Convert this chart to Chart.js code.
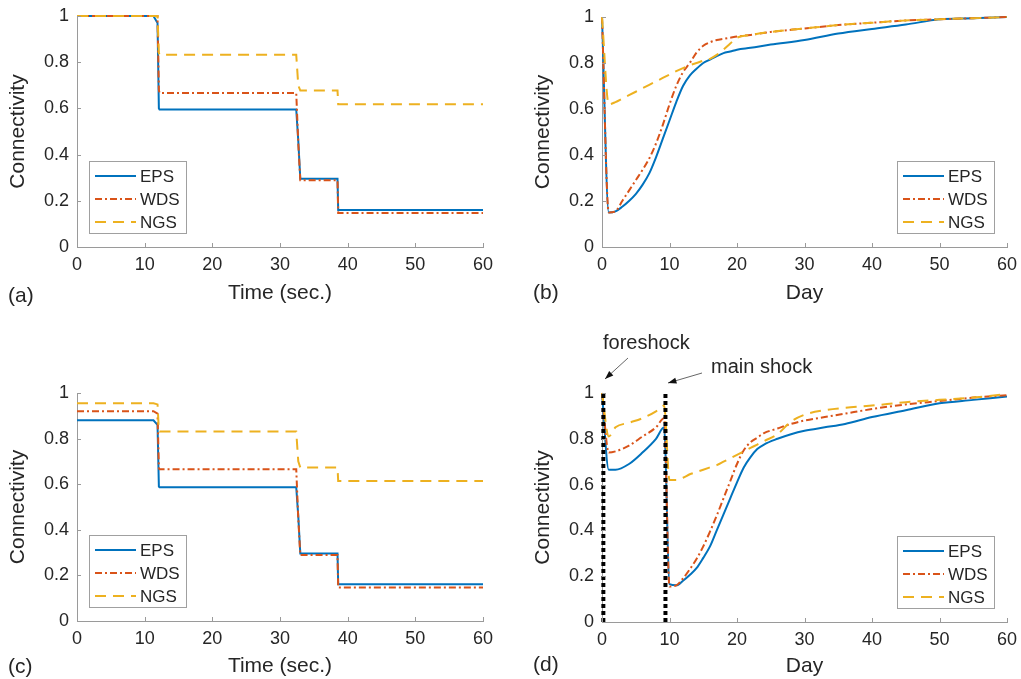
<!DOCTYPE html>
<html>
<head>
<meta charset="utf-8">
<script src="https://cdn.jsdelivr.net/npm/chart.js@4.4.1/dist/chart.umd.min.js"></script>
<style>
  body { margin: 0; background: #fff; width: 1021px; height: 679px; position: relative; overflow: hidden; }
  .panel { position: absolute; }
</style>
</head>
<body>
<div class="panel" style="left:0;top:0;width:510px;height:320px"><canvas id="chartA"></canvas></div>
<div class="panel" style="left:510px;top:0;width:511px;height:320px"><canvas id="chartB"></canvas></div>
<div class="panel" style="left:0;top:330px;width:510px;height:349px"><canvas id="chartC"></canvas></div>
<div class="panel" style="left:510px;top:330px;width:511px;height:349px"><canvas id="chartD"></canvas></div>
<script>
// ---- data ----
const seriesNames = ['EPS', 'WDS', 'NGS'];
const xTicks = [0, 10, 20, 30, 40, 50, 60];
const yTicks = [0, 0.2, 0.4, 0.6, 0.8, 1];

// (a) / (c): seconds during the shaking
const timeSec = [0, 11.3, 11.9, 12.1, 12.2, 32.4, 32.7, 33.0, 38.5, 38.6, 60];
const epsA = [1, 1, 0.97, 0.60, 0.595, 0.595, 0.46, 0.295, 0.295, 0.16, 0.16];
const wdsA = [1, 1, 1, 0.68, 0.667, 0.667, 0.45, 0.289, 0.289, 0.147, 0.147];
const ngsA = [1, 1, 1, 0.84, 0.832, 0.832, 0.70, 0.677, 0.677, 0.618, 0.618];
const epsC = [0.88, 0.88, 0.86, 0.59, 0.587, 0.587, 0.46, 0.296, 0.296, 0.161, 0.161];
const wdsC = [0.92, 0.92, 0.91, 0.67, 0.666, 0.666, 0.45, 0.289, 0.289, 0.147, 0.147];
const ngsC = [0.955, 0.955, 0.95, 0.835, 0.831, 0.831, 0.70, 0.673, 0.673, 0.614, 0.614];

// (b): days after the main shock
const dayB = [0, 1, 2, 3, 4, 5, 6, 7, 8, 9, 10, 11, 12, 13, 14, 15, 16, 17, 18, 19, 20, 22, 25, 30, 35, 40, 45, 50, 55, 60];
const epsB = [1, 0.15, 0.155, 0.175, 0.20, 0.23, 0.27, 0.32, 0.39, 0.47, 0.55, 0.63, 0.70, 0.745, 0.775, 0.80, 0.815, 0.83, 0.843, 0.85, 0.858, 0.866, 0.88, 0.90, 0.928, 0.948, 0.967, 0.99, 0.995, 1.0];
const wdsB = [1, 0.15, 0.155, 0.20, 0.245, 0.29, 0.335, 0.385, 0.45, 0.53, 0.62, 0.70, 0.76, 0.80, 0.845, 0.875, 0.89, 0.90, 0.905, 0.91, 0.915, 0.922, 0.935, 0.95, 0.965, 0.975, 0.985, 0.99, 0.995, 1.0];
const ngsB = [1, 0.62, 0.63, 0.645, 0.66, 0.675, 0.69, 0.705, 0.72, 0.735, 0.75, 0.765, 0.778, 0.79, 0.80, 0.81, 0.818, 0.835, 0.858, 0.885, 0.91, 0.922, 0.935, 0.95, 0.965, 0.975, 0.985, 0.99, 0.995, 1.0];

// (d): foreshock + main shock
const dayD = [0, 1, 2, 4, 6, 8, 9.2, 10, 11, 12, 13, 14, 15, 16, 17, 18, 19, 20, 21, 22, 23, 24, 26, 28, 30, 33, 36, 40, 45, 50, 55, 60];
const epsD = [1, 0.665, 0.665, 0.69, 0.74, 0.80, 0.85, 0.165, 0.16, 0.18, 0.205, 0.235, 0.28, 0.33, 0.40, 0.47, 0.54, 0.61, 0.675, 0.72, 0.755, 0.775, 0.80, 0.82, 0.835, 0.85, 0.865, 0.895, 0.925, 0.955, 0.97, 0.985];
const wdsD = [1, 0.74, 0.745, 0.77, 0.81, 0.85, 0.89, 0.155, 0.16, 0.19, 0.23, 0.275, 0.33, 0.395, 0.465, 0.54, 0.615, 0.69, 0.75, 0.785, 0.805, 0.825, 0.845, 0.865, 0.88, 0.895, 0.91, 0.93, 0.95, 0.965, 0.98, 0.99];
const ngsD = [1, 0.81, 0.85, 0.87, 0.89, 0.92, 0.945, 0.62, 0.62, 0.63, 0.645, 0.655, 0.665, 0.675, 0.685, 0.70, 0.715, 0.73, 0.745, 0.76, 0.775, 0.79, 0.82, 0.875, 0.905, 0.925, 0.935, 0.945, 0.96, 0.97, 0.98, 0.995];
const shockDays = [0.2, 9.4];
const shockNames = ['foreshock', 'main shock'];

// ---- styling ----
const FONT = "'Liberation Sans', Arial, sans-serif";
const TEXT = '#262626';
const AXIS = '#9a9a9a';
const TITLE_SIZE = 21;
const seriesStyle = [
  { color: '#0072BD', dash: [] },
  { color: '#D95319', dash: [7, 3, 2, 3] },
  { color: '#EDB120', dash: [11, 7] }
];

const toPts = (xs, ys) => xs.map((x, i) => ({ x: x, y: ys[i] }));

// inward MATLAB-style tick marks
const tickMarks = {
  id: 'tickMarks',
  afterDatasetsDraw(chart) {
    const { ctx, chartArea: a, scales } = chart;
    ctx.save();
    ctx.strokeStyle = AXIS;
    ctx.lineWidth = 1;
    ctx.beginPath();
    scales.x.ticks.forEach(t => {
      const px = Math.round(scales.x.getPixelForValue(t.value)) + 0.5;
      ctx.moveTo(px, a.bottom); ctx.lineTo(px, a.bottom - 4);
    });
    scales.y.ticks.forEach(t => {
      const py = Math.round(scales.y.getPixelForValue(t.value)) + 0.5;
      ctx.moveTo(a.left, py); ctx.lineTo(a.left + 4, py);
    });
    ctx.stroke();
    ctx.restore();
  }
};

// legend box drawn inside the axes
const boxLegend = {
  id: 'boxLegend',
  afterDraw(chart, args, opts) {
    const { ctx, chartArea: a } = chart;
    const w = 97, h = 72;
    const bx = opts.side === 'left' ? a.left + 12 : a.right - 13 - w;
    const by = a.bottom - 14 - h;
    ctx.save();
    ctx.fillStyle = '#fff';
    ctx.fillRect(bx, by, w, h);
    ctx.strokeStyle = '#a0a0a0';
    ctx.lineWidth = 1;
    ctx.strokeRect(bx + 0.5, by + 0.5, w, h);
    seriesNames.forEach((name, i) => {
      const y = by + 15 + 23 * i;
      ctx.strokeStyle = seriesStyle[i].color;
      ctx.lineWidth = 2;
      ctx.setLineDash(seriesStyle[i].dash);
      ctx.beginPath();
      ctx.moveTo(bx + 6, y); ctx.lineTo(bx + 47, y);
      ctx.stroke();
      ctx.setLineDash([]);
      ctx.fillStyle = TEXT;
      ctx.font = '17px ' + FONT;
      ctx.textBaseline = 'middle';
      ctx.fillText(name, bx + 51, y + 1);
    });
    ctx.restore();
  }
};

// panel tag "(a)" etc.
const panelTag = {
  id: 'panelTag',
  afterDraw(chart, args, opts) {
    const ctx = chart.ctx;
    ctx.save();
    ctx.fillStyle = TEXT;
    ctx.font = '21px ' + FONT;
    ctx.textBaseline = 'middle';
    ctx.fillText(opts.text, opts.x, opts.y);
    ctx.restore();
  }
};

// shock annotations for panel (d)
const shockNotes = {
  id: 'shockNotes',
  afterDraw(chart, args, opts) {
    if (!opts.show) return;
    const ctx = chart.ctx;
    const notes = [
      { text: shockNames[0], tx: 93, ty: 13, from: [118, 28], to: [95, 49] },
      { text: shockNames[1], tx: 201, ty: 37, from: [192, 43], to: [158, 53] }
    ];
    ctx.save();
    notes.forEach(n => {
      ctx.fillStyle = TEXT;
      ctx.font = '20px ' + FONT;
      ctx.textBaseline = 'middle';
      ctx.fillText(n.text, n.tx, n.ty);
      ctx.strokeStyle = '#666';
      ctx.lineWidth = 1;
      ctx.beginPath();
      ctx.moveTo(n.from[0], n.from[1]); ctx.lineTo(n.to[0], n.to[1]);
      ctx.stroke();
      const ang = Math.atan2(n.to[1] - n.from[1], n.to[0] - n.from[0]);
      ctx.fillStyle = '#111';
      ctx.beginPath();
      ctx.moveTo(n.to[0], n.to[1]);
      ctx.lineTo(n.to[0] - 9 * Math.cos(ang - 0.35), n.to[1] - 9 * Math.sin(ang - 0.35));
      ctx.lineTo(n.to[0] - 9 * Math.cos(ang + 0.35), n.to[1] - 9 * Math.sin(ang + 0.35));
      ctx.closePath();
      ctx.fill();
    });
    ctx.restore();
  }
};

function makePanel(id, cfg) {
  const datasets = [cfg.eps, cfg.wds, cfg.ngs].map((ys, i) => ({
    label: seriesNames[i],
    data: toPts(cfg.x, ys),
    borderColor: seriesStyle[i].color,
    borderDash: seriesStyle[i].dash,
    borderWidth: 2,
    pointRadius: 0,
    cubicInterpolationMode: cfg.smooth ? 'monotone' : 'default',
    tension: 0,
    order: 3 - i,
    clip: 4
  }));
  (cfg.shocks || []).forEach(d => {
    datasets.push({
      label: 'shock',
      data: [{ x: d, y: 0 }, { x: d, y: 1 }],
      borderColor: '#000',
      borderDash: [4, 3],
      borderWidth: 4,
      pointRadius: 0,
      order: 0,
      clip: 4
    });
  });

  const half = TITLE_SIZE * 1.2 / 2;
  new Chart(document.getElementById(id), {
    type: 'line',
    data: { datasets },
    plugins: [tickMarks, boxLegend, panelTag, shockNotes],
    options: {
      responsive: true,
      maintainAspectRatio: false,
      animation: false,
      events: [],
      layout: { padding: { top: cfg.top, right: cfg.W - cfg.right, left: 0, bottom: 0 } },
      plugins: {
        legend: { display: false },
        tooltip: { enabled: false },
        boxLegend: { side: cfg.legendSide },
        panelTag: { text: cfg.tag, x: cfg.tagX, y: cfg.tagY },
        shockNotes: { show: !!cfg.shocks }
      },
      scales: {
        x: {
          type: 'linear',
          min: 0, max: 60,
          afterBuildTicks: s => { s.ticks = xTicks.map(v => ({ value: v })); },
          afterFit: s => { s.height = cfg.H - cfg.bottom; s.paddingLeft = 0; s.paddingRight = 0; },
          grid: { display: false, drawTicks: false },
          border: { display: true, color: AXIS, width: 1 },
          ticks: { color: TEXT, font: { family: FONT, size: 18 }, padding: 7, maxRotation: 0 },
          title: { display: true, text: cfg.xTitle, color: TEXT, font: { family: FONT, size: TITLE_SIZE },
                   padding: { top: 0, bottom: Math.max(0, cfg.H - cfg.xTitleY - half) } }
        },
        y: {
          min: 0, max: 1,
          afterBuildTicks: s => { s.ticks = yTicks.map(v => ({ value: v })); },
          afterFit: s => { s.width = cfg.left; s.paddingTop = 0; s.paddingBottom = 0; },
          grid: { display: false, drawTicks: false },
          border: { display: true, color: AXIS, width: 1 },
          ticks: { color: TEXT, font: { family: FONT, size: 18 }, padding: 8, callback: v => String(+v.toFixed(1)) },
          title: { display: true, text: 'Connectivity', color: TEXT, font: { family: FONT, size: TITLE_SIZE },
                   padding: { top: cfg.left - 59 - half, bottom: 0 } }
        }
      }
    }
  });
}

makePanel('chartA', { W: 510, H: 320, left: 77, right: 483, top: 16, bottom: 247, x: timeSec, eps: epsA, wds: wdsA, ngs: ngsA,
  xTitle: 'Time (sec.)', xTitleY: 293, tag: '(a)', tagX: 8, tagY: 296, legendSide: 'left' });
makePanel('chartB', { W: 511, H: 320, left: 92, right: 497, top: 17, bottom: 247, x: dayB, eps: epsB, wds: wdsB, ngs: ngsB, smooth: true,
  xTitle: 'Day', xTitleY: 293, tag: '(b)', tagX: 23, tagY: 293, legendSide: 'right' });
makePanel('chartC', { W: 510, H: 349, left: 77, right: 483, top: 63, bottom: 291, x: timeSec, eps: epsC, wds: wdsC, ngs: ngsC,
  xTitle: 'Time (sec.)', xTitleY: 337, tag: '(c)', tagX: 8, tagY: 337, legendSide: 'left' });
makePanel('chartD', { W: 511, H: 349, left: 92, right: 497, top: 63, bottom: 292, x: dayD, eps: epsD, wds: wdsD, ngs: ngsD, smooth: true,
  shocks: shockDays, xTitle: 'Day', xTitleY: 337, tag: '(d)', tagX: 23, tagY: 335, legendSide: 'right' });
</script>
</body>
</html>
